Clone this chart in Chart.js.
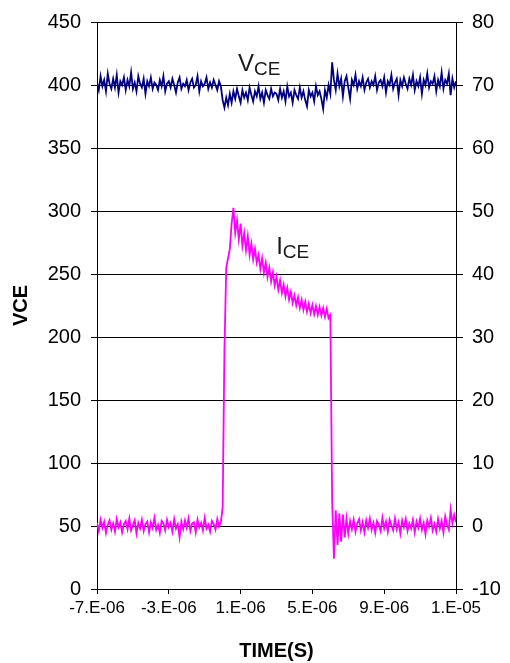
<!DOCTYPE html>
<html>
<head>
<meta charset="utf-8">
<script src="https://cdn.jsdelivr.net/npm/chart.js@4"></script>
<style>
  html, body { margin: 0; padding: 0; background: #fff; }
  canvas { display: block; }
</style>
</head>
<body>
<canvas id="myChart" width="510" height="663"></canvas>
<script>
// 1. DATA (one sample every 0.1 us, from -7 us to 13 us)

const inicioUs = -7;
const pasoUs = 0.1;

// collector-emitter voltage (left axis)
const vce = [
  402, 396, 407, 399, 404, 395, 409, 401, 397, 405,
  398, 408, 394, 403, 400, 406, 396, 404, 399, 410,
  397, 402, 395, 407, 401, 398, 405, 393, 403, 399,
  406, 397, 402, 400, 396, 404, 399, 407, 395, 401,
  403, 398, 405, 400, 394, 402, 406, 397, 401, 399,
  404, 396, 402, 405, 398, 400, 407, 395, 403, 399,
  401, 406, 397, 402, 398, 404, 400, 396, 403, 399,
  388, 382, 390, 384, 393, 386, 395, 389, 397, 391,
  386, 396, 390, 394, 388, 398, 392, 387, 395, 391,
  399, 389, 394, 386, 396, 392, 389, 397, 391, 394,
  393, 388, 397, 390, 395, 387, 399, 391, 394, 386,
  396, 392, 389, 398, 390, 395, 388, 383, 396, 391,
  394, 387, 399, 392, 395, 389, 381, 396, 390, 400,
  393,
  418, 404, 396, 409, 399, 405, 391, 403, 407, 398,
  389, 404, 400, 408, 397, 403, 399, 406, 396, 402,
  405, 398, 403, 400, 407, 396, 402, 404, 399, 406,
  394, 403, 400, 408, 397, 402, 405, 392, 404, 399,
  406, 401, 397, 405, 400, 408, 396, 403, 399, 406,
  393, 404, 400, 409, 398, 403, 401, 407, 395, 404,
  399, 410, 397, 404, 401, 409, 392, 405, 398, 403
];

// collector-emitter current (right axis)
const ice = [
  0.5, -0.8, 1.0, -0.3, 0.7, -1.1, 0.2, 0.9, -0.6, 0.4,
  -0.9, 1.1, -0.2, 0.6, -1.0, 0.3, 0.8, -0.5, 1.2, -0.7,
  0.1, 0.9, -1.2, 0.5, -0.4, 1.0, -0.8, 0.3, 0.7, -1.0,
  0.6, -0.3, 1.3, -0.6, 0.2, -1.1, 0.8, 0.4, -0.7, 1.0,
  -0.2, 0.5, -0.9, 1.1, -0.4, 0.3, -1.8, 0.7, -0.5, 0.9,
  -0.3, 1.2, -0.8, 0.4, 0.6, -1.0, 1.0, -0.2, 0.5, -0.7,
  1.3, -0.4, 0.2, -0.9, 0.8, 0.3, -0.6, 1.1, -0.1, 0.6,
  3, 28, 41, 42.5, 44, 48, 50.5, 46.5, 48.5, 45.5,
  48, 44.5, 46.5, 43.8, 46, 43, 44.8, 42.3, 44, 41.8,
  43, 40.8, 42.5, 40.2, 41.8, 39.5, 41, 38.8, 40.3, 38.2,
  39.6, 37.5, 39, 37, 38.3, 36.4, 37.8, 35.9, 37.2, 35.4,
  36.6, 35, 36.3, 34.6, 35.9, 34.3, 35.6, 34, 35.3, 33.8,
  35.1, 33.6, 34.9, 33.5, 34.8, 33.4, 34.6, 33.2, 34.5, 33,
  33.5,
  4, -5.2, 2.5, -3, 2, -2.5, 1.8, -1.8, 1.2, -1.2,
  0.8, -0.5, 1.0, -0.9, 0.4, 1.1, -0.7, 0.6, -1.0, 0.9,
  -0.3, 1.2, -0.6, 0.5, -1.1, 0.8, 0.2, -0.8, 1.3, -0.4,
  0.7, -0.9, 1.0, 0.1, -0.7, 1.2, -0.5, 0.6, -1.2, 0.9,
  -0.2, 1.1, -0.8, 0.4, -0.4, 1.0, -1.0, 0.7, -0.3, 1.2,
  -0.6, 0.5, -1.3, 0.9, -0.1, 1.3, -0.7, 0.3, -0.9, 1.1,
  -0.4, 0.8, -1.0, 1.5, 0.2, -0.6, 2.6, 0.4, 1.8, 0.6
];

// axis ranges
const tiempoMin = -7e-6;
const tiempoMax = 1.3e-5;
const tiempoPaso = 4e-6;
const vceMin = 0, vceMax = 450, vcePaso = 50;
const iceMin = -10, iceMax = 80, icePaso = 10;

const tiempo = vce.map((_, i) => (inicioUs + i * pasoUs) * 1e-6);


// 2. HELPERS

// Excel style "0.E+00" labels
function formatoCientifico(v) {
  if (Math.abs(v) < 1e-12) return "0.E+00";
  let exp = Math.floor(Math.log10(Math.abs(v)));
  let man = Math.round(v / Math.pow(10, exp));
  if (Math.abs(man) >= 10) {
    man = man / 10;
    exp += 1;
  }
  const signo = exp < 0 ? "-" : "+";
  return man + ".E" + signo + String(Math.abs(exp)).padStart(2, "0");
}

function textoConSubindice(ctx, letra, sub, px, py) {
  ctx.save();
  ctx.fillStyle = "#1a1a1a";
  ctx.textBaseline = "alphabetic";
  ctx.textAlign = "left";
  ctx.font = "24px 'Liberation Sans', Arial, sans-serif";
  ctx.fillText(letra, px, py);
  const ancho = ctx.measureText(letra).width;
  ctx.font = "19px 'Liberation Sans', Arial, sans-serif";
  ctx.fillText(sub, px + ancho, py + 4);
  ctx.restore();
}

const etiquetas = {
  id: "etiquetas",
  afterDatasetsDraw(chart) {
    const x = chart.scales.x;
    const y = chart.scales.y;
    textoConSubindice(chart.ctx, "V", "CE", x.getPixelForValue(0.86e-6), y.getPixelForValue(411.5));
    textoConSubindice(chart.ctx, "I", "CE", x.getPixelForValue(2.98e-6), y.getPixelForValue(265.5));
  }
};

const fondoBlanco = {
  id: "fondoBlanco",
  beforeDraw(chart) {
    const ctx = chart.ctx;
    ctx.save();
    ctx.fillStyle = "#fff";
    ctx.fillRect(0, 0, chart.width, chart.height);
    ctx.restore();
  }
};


// 3. CHART

Chart.defaults.color = "#000";
Chart.defaults.font.family = "'Liberation Sans', Arial, sans-serif";

const ctx = document.getElementById("myChart");

const chart = new Chart(ctx, {
  type: "line",
  data: {
    datasets: [
      {
        label: "VCE",
        data: vce.map((v, i) => ({ x: tiempo[i], y: v })),
        borderColor: "#000080",
        borderWidth: 1.8,
        pointRadius: 0,
        tension: 0,
        yAxisID: "y"
      },
      {
        label: "ICE",
        data: ice.map((v, i) => ({ x: tiempo[i], y: v })),
        borderColor: "#ff00ff",
        borderWidth: 1.8,
        pointRadius: 0,
        tension: 0,
        yAxisID: "y2"
      }
    ]
  },
  options: {
    responsive: false,
    animation: false,
    layout: { padding: { top: 16, left: 0, right: 0, bottom: 0 } },
    plugins: {
      legend: { display: false },
      tooltip: { enabled: false }
    },
    scales: {
      x: {
        type: "linear",
        min: tiempoMin,
        max: tiempoMax,
        ticks: {
          stepSize: tiempoPaso,
          callback: formatoCientifico,
          font: { size: 17 },
          padding: 4,
          maxRotation: 0,
          autoSkip: false
        },
        grid: { drawOnChartArea: false, color: "#000", tickLength: 5 },
        border: { color: "#000", width: 1 },
        title: {
          display: true,
          text: "TIME(S)",
          font: { size: 20, weight: "bold" },
          padding: { top: 0, bottom: 0 }
        },
        afterFit(s) { s.height = 74; }
      },
      y: {
        position: "left",
        min: vceMin,
        max: vceMax,
        ticks: { stepSize: vcePaso, font: { size: 20 }, padding: 10 },
        grid: { color: "#000", tickLength: 6 },
        border: { color: "#000", width: 1 },
        title: {
          display: true,
          text: "VCE",
          font: { size: 20, weight: "bold" },
          padding: { top: 9, bottom: 0 }
        },
        afterFit(s) { s.width = 97; }
      },
      y2: {
        position: "right",
        min: iceMin,
        max: iceMax,
        ticks: { stepSize: icePaso, font: { size: 20 }, padding: 9 },
        grid: { drawOnChartArea: false, color: "#000", tickLength: 7 },
        border: { color: "#000", width: 1 },
        afterFit(s) { s.width = 54; }
      }
    }
  },
  plugins: [fondoBlanco, etiquetas]
});
</script>
</body>
</html>
